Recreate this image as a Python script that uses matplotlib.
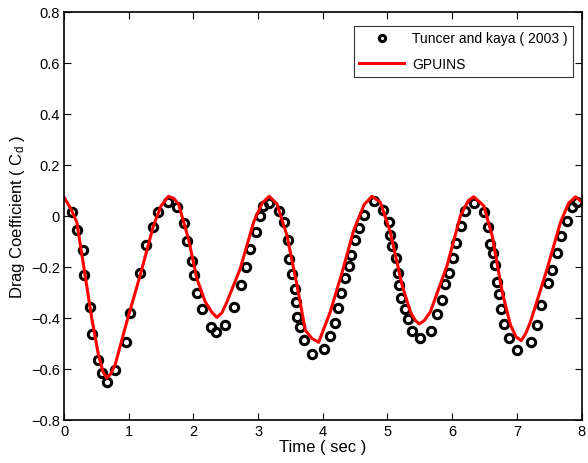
import matplotlib
matplotlib.use("Agg")
import matplotlib.pyplot as plt

plt.rcParams['font.family'] = ['Liberation Sans', 'DejaVu Sans']
plt.rcParams['mathtext.fontset'] = 'custom'
plt.rcParams['mathtext.rm'] = 'Liberation Sans'
plt.rcParams['mathtext.it'] = 'Liberation Sans'

# Tuncer and Kaya (2003) data points
exp_t = [0.119, 0.197, 0.289, 0.314, 0.402, 0.438, 0.531, 0.583, 0.670, 0.789,
         0.955, 1.021, 1.176, 1.269, 1.373, 1.459, 1.614, 1.744, 1.857, 1.895,
         1.981, 2.012, 2.058, 2.135, 2.270, 2.347, 2.491, 2.620, 2.734, 2.812,
         2.878, 2.960, 3.033, 3.075, 3.172, 3.316, 3.404, 3.462, 3.482, 3.523,
         3.564, 3.590, 3.601, 3.652, 3.703, 3.833, 4.023, 4.116, 4.193, 4.235,
         4.286, 4.348, 4.399, 4.436, 4.503, 4.554, 4.631, 4.786, 4.925, 5.029,
         5.044, 5.071, 5.137, 5.157, 5.184, 5.215, 5.266, 5.318, 5.380, 5.498,
         5.679, 5.767, 5.845, 5.885, 5.947, 6.015, 6.066, 6.138, 6.205, 6.344,
         6.488, 6.556, 6.592, 6.634, 6.658, 6.696, 6.720, 6.757, 6.798, 6.875,
         7.005, 7.222, 7.315, 7.381, 7.479, 7.536, 7.613, 7.690, 7.768, 7.856,
         7.933]
exp_cd = [0.014, -0.055, -0.133, -0.233, -0.359, -0.463, -0.565, -0.617, -0.652, -0.604,
          -0.493, -0.382, -0.224, -0.113, -0.044, 0.017, 0.053, 0.034, -0.027, -0.098,
          -0.178, -0.233, -0.304, -0.367, -0.434, -0.457, -0.428, -0.356, -0.272, -0.200,
          -0.129, -0.064, -0.001, 0.040, 0.051, 0.018, -0.025, -0.094, -0.168, -0.226,
          -0.285, -0.337, -0.395, -0.434, -0.487, -0.542, -0.522, -0.471, -0.419, -0.363,
          -0.304, -0.243, -0.196, -0.152, -0.096, -0.048, 0.004, 0.060, 0.025, -0.025,
          -0.074, -0.118, -0.165, -0.222, -0.272, -0.321, -0.367, -0.406, -0.452, -0.480,
          -0.452, -0.386, -0.331, -0.269, -0.224, -0.165, -0.105, -0.040, 0.021, 0.051,
          0.014, -0.044, -0.109, -0.144, -0.191, -0.259, -0.307, -0.367, -0.424, -0.480,
          -0.526, -0.493, -0.428, -0.350, -0.265, -0.211, -0.144, -0.079, -0.018, 0.034,
          0.056]

# GPUINS simulation
sim_t = [0.0, 0.1, 0.197, 0.325, 0.428, 0.531, 0.600, 0.660, 0.720, 0.789,
         0.970, 1.176, 1.382, 1.500, 1.614, 1.700, 1.769, 1.923, 2.053, 2.182,
         2.290, 2.363, 2.440, 2.518, 2.723, 2.930, 3.060, 3.172, 3.291, 3.446,
         3.601, 3.729, 3.830, 3.935, 4.116, 4.300, 4.477, 4.640, 4.761, 4.890,
         5.044, 5.226, 5.354, 5.430, 5.493, 5.570, 5.663, 5.922, 6.128, 6.250,
         6.333, 6.488, 6.618, 6.773, 6.901, 6.990, 7.067, 7.140, 7.211, 7.469,
         7.675, 7.800, 7.907, 8.0]
sim_cd = [0.073, 0.030, -0.025, -0.233, -0.402, -0.545, -0.610, -0.636, -0.620, -0.584,
          -0.415, -0.233, -0.038, 0.040, 0.077, 0.068, 0.047, -0.090, -0.246, -0.337,
          -0.380, -0.398, -0.380, -0.337, -0.207, -0.025, 0.050, 0.077, 0.047, -0.077,
          -0.272, -0.448, -0.480, -0.496, -0.376, -0.220, -0.057, 0.045, 0.077, 0.053,
          -0.064, -0.272, -0.376, -0.410, -0.424, -0.410, -0.376, -0.194, 0.001, 0.060,
          0.075, 0.040, -0.077, -0.298, -0.428, -0.475, -0.489, -0.460, -0.415, -0.207,
          -0.025, 0.050, 0.075, 0.055]

fig = plt.figure(figsize=(5.88, 4.64), dpi=100)
ax = fig.add_axes([0.109, 0.093, 0.880, 0.879])

ax.plot(exp_t, exp_cd, 'o', markerfacecolor='none', markeredgecolor='black',
        markersize=6, markeredgewidth=2.2, label='Tuncer and kaya ( 2003 )')
ax.plot(sim_t, sim_cd, '-', color='red', linewidth=2.2, label='GPUINS')

ax.set_xlim(0, 8)
ax.set_ylim(-0.8, 0.8)
ax.set_xticks(range(0, 9))
ax.set_yticks([-0.8, -0.6, -0.4, -0.2, 0, 0.2, 0.4, 0.6, 0.8])
ax.set_yticklabels(['\u22120.8', '\u22120.6', '\u22120.4', '\u22120.2', '0',
                    '0.2', '0.4', '0.6', '0.8'])
ax.tick_params(direction='in', top=True, right=True, labelsize=10.5, length=5, width=0.8, pad=3)
for s in ax.spines.values():
    s.set_linewidth(1.2)

ax.set_xlabel('Time ( sec )', fontsize=12, labelpad=1)
ax.set_ylabel('Drag Coefficient ( C$_d$ )', fontsize=12, labelpad=3)

leg = ax.legend(loc='upper right', bbox_to_anchor=(0.984, 0.966), fontsize=10,
                frameon=True, fancybox=False, edgecolor='black', handlelength=3.2,
                handletextpad=0.6, borderpad=0.4, labelspacing=0.85,
                markerscale=0.75, borderaxespad=0)
leg.get_frame().set_linewidth(0.8)

fig.savefig('out.png', dpi=100)
